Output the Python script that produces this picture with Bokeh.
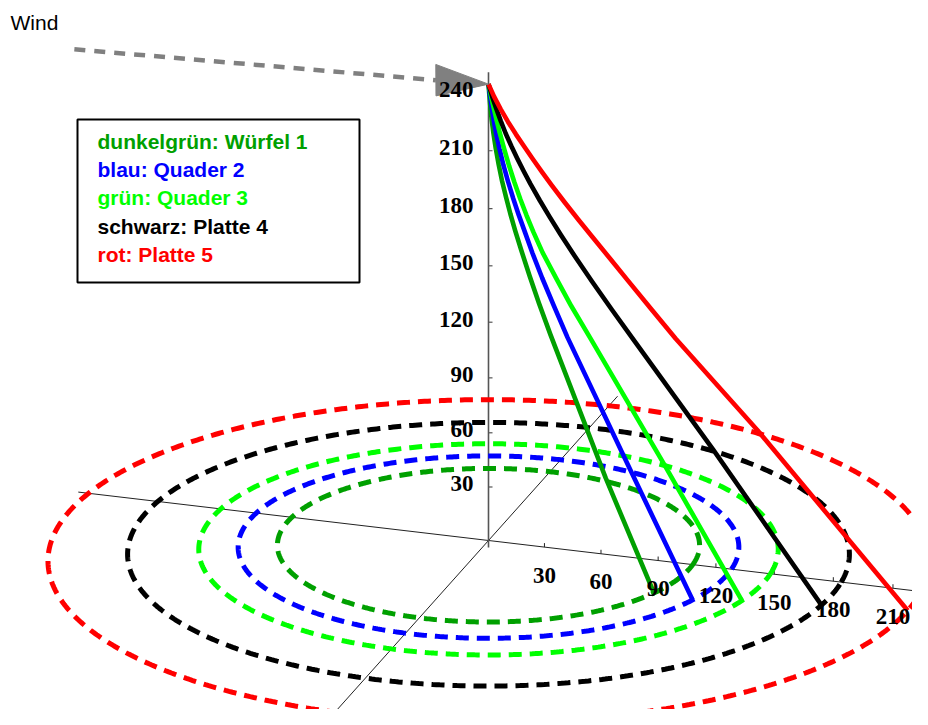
import numpy as np
from bokeh.plotting import figure
from bokeh.models import Range1d, ColumnDataSource
from bokeh.embed import file_html
from bokeh.resources import INLINE
from bokeh.core.properties import value

# ---------------- data ----------------
legend_labels = ["dunkelgrün: Würfel 1", "blau: Quader 2", "grün: Quader 3",
                 "schwarz: Platte 4", "rot: Platte 5"]
colors = ["#00A000", "#0000FF", "#00FF00", "#000000", "#FF0000"]

release_height = 244
landing_distance = [108, 128, 148, 184, 224]          # radius of each dashed circle
landing_angle_deg = [-23.1, -20.7, -15.1, -10.1, -6.7]

# trajectory samples: height above ground and horizontal distance travelled
height_dkgreen = [244, 238, 232, 226, 220, 212, 204, 196, 188, 180, 172, 162, 150, 137, 122, 54, 0]
dist_dkgreen = [0, 0.6, 1.3, 2.1, 3.1, 4.7, 6.6, 8.8, 11.4, 14.2, 17.3, 21.5, 26.8, 32.9, 40.4, 76.5, 108]
height_blue = [244, 238, 232, 226, 220, 212, 204, 196, 188, 180, 172, 162, 150, 137, 122, 60, 0]
dist_blue = [0, 1.0, 2.1, 3.3, 4.7, 6.9, 9.4, 12.3, 15.5, 19.0, 22.8, 27.5, 33.7, 41.0, 49.6, 89.2, 128]
height_green = [244, 238, 232, 226, 220, 212, 204, 196, 188, 180, 172, 162, 150, 137, 122, 64, 0]
dist_green = [0, 1.5, 3.1, 4.8, 6.6, 9.2, 12.0, 15.1, 18.5, 22.2, 26.2, 31.7, 39.6, 48.4, 59.6, 102.2, 148]
height_black = [244, 238, 232, 226, 220, 214, 208, 202, 196, 188, 180, 172, 162, 150, 137, 124, 72, 0]
dist_black = [0, 2.0, 4.3, 6.8, 9.5, 12.6, 15.9, 19.4, 23.1, 28.4, 34.0, 39.9, 47.6, 57.3, 68.2, 79.4, 124.4, 184]
height_red = [244, 238, 232, 226, 220, 214, 208, 202, 196, 188, 180, 172, 162, 152, 138, 125, 83, 0]
dist_red = [0, 3.0, 6.5, 10.4, 14.7, 19.3, 24.0, 28.9, 33.9, 40.9, 48.2, 55.7, 65.1, 74.5, 87.7, 100.2, 143.9, 224]

heights = [height_dkgreen, height_blue, height_green, height_black, height_red]
dists = [dist_dkgreen, dist_blue, dist_green, dist_black, dist_red]

x_ticks = [30, 60, 90, 120, 150, 180, 210]
z_ticks = [30, 60, 90, 120, 150, 180, 210, 240]
x_axis_range = [-230, 250]
y_axis_range = [-260, 242]
z_axis_range = [-4, 250]
wind_start = (-220, 0, 246)

# ---------------- perspective projection ----------------
theta = np.radians(18.0)
phi = np.radians(21.3)
f = 3209.0
D0 = 1645.0
kz = 0.975
cx, cy = 488.0, 540.0
dvec = np.array([-np.sin(theta) * np.cos(phi), np.cos(theta) * np.cos(phi), -np.sin(phi)])
rvec = np.array([np.cos(theta), np.sin(theta), 0.0])
uvec = np.array([-np.sin(theta) * np.sin(phi), np.cos(theta) * np.sin(phi), np.cos(phi)])


def proj(X, Y, Z):
    X, Y, Z = np.broadcast_arrays(np.asarray(X, float), np.asarray(Y, float), np.asarray(Z, float))
    P = np.stack([X, Y, kz * Z], axis=-1)
    depth = D0 + P @ dvec
    sx = cx + f * (P @ rvec) / depth
    sy = cy - f * (P @ uvec) / depth
    return sx, sy


# ---------------- figure ----------------
W, H = 912, 709
p = figure(width=W, height=H, x_range=Range1d(0, W), y_range=Range1d(H, 0),
           output_backend="svg", toolbar_location=None, min_border=0,
           x_axis_type=None, y_axis_type=None)
p.outline_line_color = None
p.background_fill_color = "white"
p.border_fill_color = "white"

# axes
ax, ay = proj(x_axis_range, [0, 0], [0, 0])
p.line(ax, ay, line_color="#222222", line_width=1)
bx, by = proj([0, 0], y_axis_range, [0, 0])
p.line(bx, by, line_color="#222222", line_width=1)
zx, zy = proj([0, 0], [0, 0], z_axis_range)
p.line(zx, zy, line_color="#555555", line_width=1.6)

# ticks
tzx, tzy = proj(0, 0, z_ticks)
p.segment(x0=tzx, y0=tzy, x1=tzx + 4, y1=tzy, line_color="#555555", line_width=1.2)
txx, txy = proj(x_ticks, 0, 0)
p.segment(x0=txx, y0=txy, x1=txx, y1=txy - 4, line_color="#222222", line_width=1)

# dashed circles on the ground
ang = np.linspace(0, 2 * np.pi, 721)
for R, col in zip(landing_distance, colors):
    ex, ey = proj(R * np.cos(ang), R * np.sin(ang), 0)
    p.line(ex, ey, line_color=col, line_width=5, line_dash="13 8")

# trajectories
for hs, ds, a, col in zip(heights, dists, landing_angle_deg, colors):
    ar = np.radians(a)
    ds = np.asarray(ds, float)
    tx, ty = proj(ds * np.cos(ar), ds * np.sin(ar), hs)
    p.line(tx, ty, line_color=col, line_width=4.6, line_join="round")

# wind arrow
head_len = 27
head_half = 8
sx0, sy0 = proj([wind_start[0], -head_len], [0, 0], [wind_start[2], release_height])
p.line(sx0, sy0, line_color="#808080", line_width=4.5, line_dash="11 9")
hx, hy = proj([0, -head_len, -head_len], [0, 0, 0],
              [release_height, release_height + head_half, release_height - head_half])
p.patch(hx, hy, fill_color="#808080", line_color="#808080", line_width=1)

# axis tick labels
p.text(x=txx, y=txy + 28, text=[str(v) for v in x_ticks], text_font=value("Liberation Serif"),
       text_font_style="bold", text_font_size="23px", text_align="center",
       text_baseline="middle", text_color="black")
p.text(x=tzx - 15, y=tzy - 3, text=[str(v) for v in z_ticks], text_font=value("Liberation Serif"),
       text_font_style="bold", text_font_size="23px", text_align="right",
       text_baseline="middle", text_color="black")

# "Wind" label
p.text(x=[10], y=[22], text=["Wind"], text_font=value("Liberation Sans"),
       text_font_size="21px", text_align="left", text_baseline="alphabetic", text_color="black")

# legend box
p.quad(left=[77], right=[359], top=[119], bottom=[282], fill_color="white",
       line_color="black", line_width=2)
leg_src = ColumnDataSource(dict(x=[97] * 5, y=[141 + 28.2 * i for i in range(5)],
                                t=legend_labels, c=colors))
p.text(x="x", y="y", text="t", text_color="c", source=leg_src,
       text_font=value("Liberation Sans"), text_font_style="bold", text_font_size="21px",
       text_align="left", text_baseline="alphabetic")

open("out.html", "w").write(file_html(p, INLINE))
